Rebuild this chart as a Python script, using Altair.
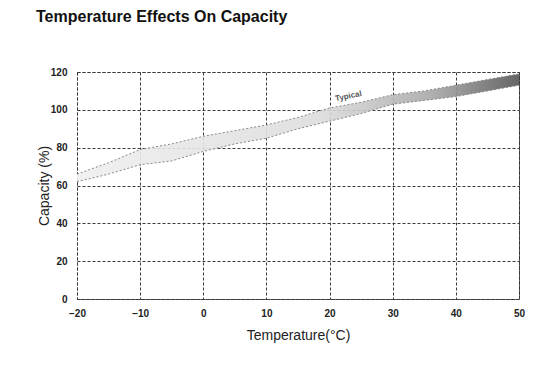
import altair as alt
import pandas as pd

# Data (capacity band, % of rated, vs temperature)
temps = [-20, -15, -10, -5, 0, 5, 10, 15, 20, 25, 30, 35, 40, 45, 50]
upper = [66, 72, 79, 82, 86, 89, 92, 96, 101, 104, 108, 110, 113, 116, 119]
lower = [62, 66, 71, 73, 78, 82, 85, 90, 94, 98, 103, 105, 107, 110, 113]

x_ticks = [-20, -10, 0, 10, 20, 30, 40, 50]
y_ticks = [0, 20, 40, 60, 80, 100, 120]

note_text = ["Typical"]
note_x = [23]
note_y = [107]

df = pd.DataFrame({"t": temps, "hi": upper, "lo": lower})
notes = pd.DataFrame({"t": note_x, "v": note_y, "label": note_text})

LAB_FONT = "Liberation Sans, Arial, sans-serif"

x_scale = alt.Scale(domain=[-20, 50], nice=False, zero=False)
y_scale = alt.Scale(domain=[0, 120], nice=False)

x_axis = alt.Axis(
    values=x_ticks, title="Temperature(°C)", ticks=False, domain=False,
    grid=True, gridColor="#3a3a3a", gridDash=[3, 2], gridWidth=1,
    labelFont=LAB_FONT, labelFontSize=10, labelFontWeight="bold", labelColor="#222",
    labelPadding=9, labelFlush=False, labelOverlap=False,
    titleFont="Liberation Sans, Arial, sans-serif", titleFontSize=14,
    titleFontWeight="normal", titleColor="#222", titleY=36, titleBaseline="middle",
)
y_axis = alt.Axis(
    values=y_ticks, title="Capacity (%)", ticks=False, domain=False,
    grid=True, gridColor="#3a3a3a", gridDash=[3, 2], gridWidth=1,
    labelFont=LAB_FONT, labelFontSize=10, labelFontWeight="bold", labelColor="#222",
    labelPadding=10, labelOverlap=False,
    titleFont="Liberation Sans, Arial, sans-serif", titleFontSize=14,
    titleFontWeight="normal", titleColor="#222", titleX=-33, titleBaseline="middle",
)

X = alt.X("t:Q", scale=x_scale, axis=x_axis)

band = alt.Chart(df).mark_area(
    color=alt.Gradient(
        gradient="linear",
        stops=[
            alt.GradientStop(color="#efefef", offset=0),
            alt.GradientStop(color="#dcdcdc", offset=0.55),
            alt.GradientStop(color="#a8a8a8", offset=0.8),
            alt.GradientStop(color="#555555", offset=1),
        ],
        x1=0, x2=1, y1=0, y2=0,
    ),
    opacity=0.9,
).encode(
    x=X,
    y=alt.Y("hi:Q", scale=y_scale, axis=y_axis),
    y2="lo:Q",
)

top_line = alt.Chart(df).mark_line(color="#888", strokeDash=[2, 2], strokeWidth=1).encode(
    x=X, y=alt.Y("hi:Q", scale=y_scale, axis=y_axis)
)
bot_line = alt.Chart(df).mark_line(color="#888", strokeDash=[2, 2], strokeWidth=1).encode(
    x=X, y=alt.Y("lo:Q", scale=y_scale, axis=y_axis)
)

note = alt.Chart(notes).mark_text(
    fontSize=8, color="#555", angle=348, font=LAB_FONT, fontWeight="bold"
).encode(
    x=X, y=alt.Y("v:Q", scale=y_scale, axis=y_axis), text="label:N"
)

chart = (
    alt.layer(band, top_line, bot_line, note)
    .properties(
        width=442,
        height=227,
        autosize=alt.AutoSizeParams(type="none"),
        padding={"left": 69, "top": 64, "right": 25, "bottom": 50},
        background="white",
        title=alt.Title(
            "Temperature Effects On Capacity",
            anchor="start", frame="group", dx=-41, offset=42,
            font="Liberation Sans, Arial, sans-serif", fontSize=16,
            fontWeight="bold", color="#111",
        ),
    )
    .configure_view(stroke="#3a3a3a", strokeDash=[3, 2], strokeWidth=1)
)

chart.save("out.html", embed_options={"renderer": "svg", "actions": False})
